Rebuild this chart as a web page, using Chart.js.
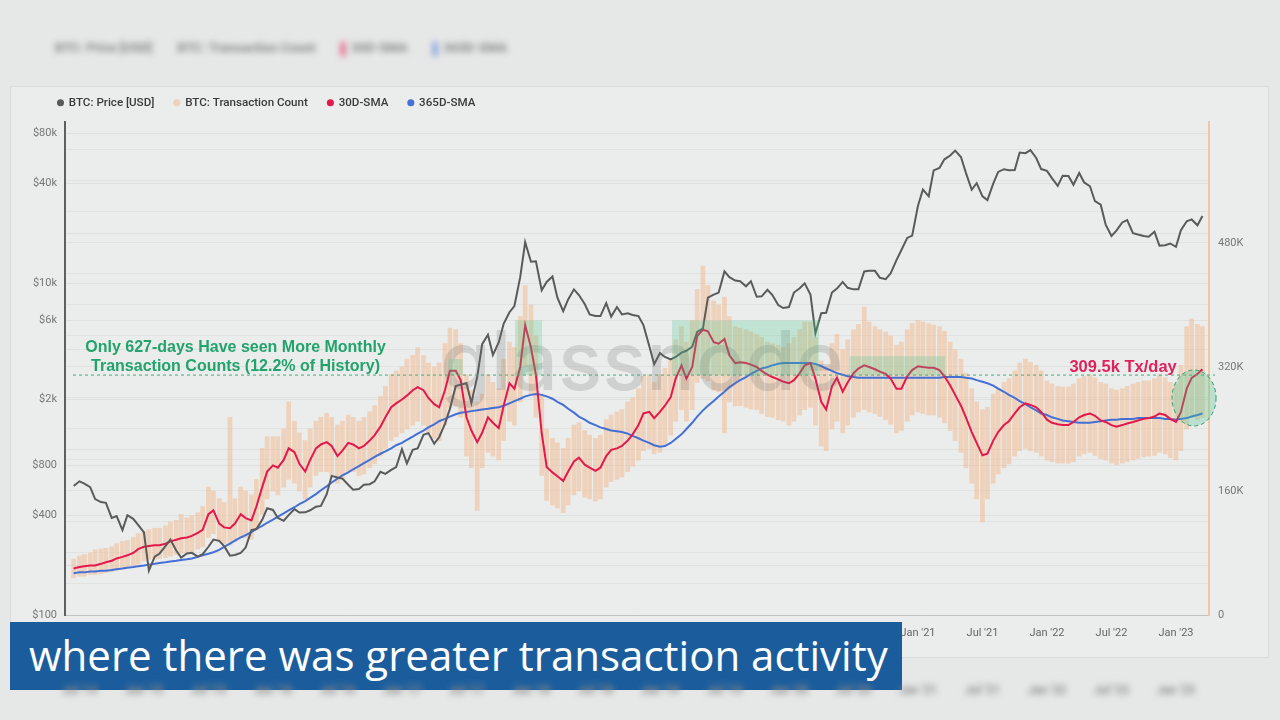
<!DOCTYPE html>
<html>
<head>
<meta charset="utf-8">
<script src="https://cdn.jsdelivr.net/npm/chart.js@4.4.1/dist/chart.umd.min.js"></script>
<style>
html, body { margin: 0; padding: 0; }
body { width: 1280px; height: 720px; background: #e6e7e7; position: relative; overflow: hidden; font-family: Roboto, sans-serif; }
#card { position: absolute; left: 10px; top: 86px; width: 1257px; height: 570px; background: #ebecec; border: 1px solid #dadbdb; }
#wrap { position: absolute; left: 10px; top: 86px; width: 1258px; height: 560px; }
#ghostTop { position: absolute; left: 55px; top: 40px; font: bold 13px Roboto; color: #858585; filter: blur(3px); white-space: nowrap; }
#ghostTop span { margin-right: 22px; }
#ghostTop i { display: inline-block; width: 4px; height: 14px; margin-right: 6px; vertical-align: middle; }
.ghostTick { position: absolute; top: 683px; width: 50px; text-align: center; font: bold 12px Roboto; color: #8c8c8c; filter: blur(3px); }
#caption { position: absolute; left: 10px; top: 622px; width: 892px; height: 68px; background: #1b5d9c; color: #fff; font: 42px "Open Sans", sans-serif; line-height: 66px; padding-left: 19px; box-sizing: border-box; white-space: nowrap; }
</style>
</head>
<body>
<div id="ghostTop">
  <span>BTC: Price [USD]</span>
  <span>BTC: Transaction Count</span>
  <span><i style="background:#e84a78"></i>30D-SMA</span>
  <span><i style="background:#6c8fe0"></i>365D-SMA</span>
</div>
<div id="card"></div>
<div id="wrap"><canvas id="chart" width="1258" height="560"></canvas></div>
<div id="caption">where there was greater transaction activity</div>
<script>
// half-month sample dates, 15 Jun 2014 -> 15 Mar 2023
var dates = [];
for (var yr = 2014; yr <= 2023; yr++) {
    for (var m = 1; m <= 12; m++) {
        [1, 15].forEach(function (d) {
            if (yr === 2014 && (m < 6 || (m === 6 && d === 1))) return;
            if (yr === 2023 && m > 3) return;
            dates.push(yr + '-' + (m < 10 ? '0' : '') + m + '-' + (d < 10 ? '0' : '') + d);
        });
    }
}

// BTC price [USD]
var price = [
    600, 640, 620, 590, 500, 480, 475, 385, 395, 325, 400, 380, 350,
    315, 185, 225, 235, 260, 285, 245, 222, 235, 237, 225, 233, 258, 285, 280, 260, 228, 230, 237, 255, 325, 330, 375, 440,
    430, 385, 370, 400, 435, 415, 416, 428, 450, 455, 535, 690, 675, 665, 610, 570, 575, 610, 615, 640, 730, 710, 750, 780,
    1000, 820, 990, 1010, 1220, 1250, 1080, 1180, 1420, 1750, 2400, 2450, 2500, 1900, 2730, 4300, 4900, 3700, 4400, 5700, 6700, 7300, 10900, 17700,
    13500, 13600, 9100, 10200, 11000, 8200, 6800, 8000, 9200, 8500, 7500, 6500, 6350, 6350, 7600, 6300, 7200, 6500, 6600, 6450, 6350, 5600, 4200, 3250,
    3800, 3600, 3480, 3600, 3820, 3920, 4150, 5100, 5350, 8200, 8550, 8800, 11800, 10900, 10400, 10300, 9600, 10300, 8300, 8350, 9150, 8500, 7400, 7100,
    7200, 8800, 9350, 10000, 8550, 5000, 6600, 6650, 8800, 9300, 10200, 9400, 9200, 9200, 11800, 11900, 11900, 10800, 10600, 11500, 13800, 15900, 18800, 19400,
    29400, 36800, 33500, 48000, 49600, 56000, 59000, 63200, 57800, 46400, 36700, 40200, 33500, 31800, 39900, 47000, 48800, 48100, 48200, 61500, 61000, 63600, 57000, 48900,
    47700, 43100, 38700, 44500, 44400, 39300, 46300, 40600, 38500, 31300, 29800, 22600, 19300, 20800, 23300, 24100, 20100, 19700, 19300, 19100, 20500, 16900, 17000, 17400,
    16600, 20900, 23700, 24300, 22400, 25500
];

// transaction count, thousands per day: daily low / high within each half month
var txLow = [
    48, 50, 50, 52, 52, 53, 55, 56, 58, 60, 62, 64, 66,
    70, 72, 72, 73, 74, 76, 78, 80, 80, 82, 85, 88, 100, 105, 95, 92, 90, 95, 100, 100, 98, 110, 130, 150,
    160, 155, 165, 175, 170, 160, 150, 165, 180, 185, 185, 180, 170, 175, 185, 185, 180, 182, 190, 195, 205, 215, 225, 230,
    235, 240, 245, 250, 245, 235, 228, 225, 245, 268, 270, 255, 205, 190, 135, 190, 210, 205, 200, 225, 250, 245, 275, 320,
    285, 255, 180, 148, 142, 138, 132, 142, 155, 160, 152, 150, 147, 150, 165, 172, 175, 178, 185, 192, 200, 212, 215, 208,
    210, 220, 232, 250, 265, 250, 265, 300, 305, 302, 290, 288, 235, 275, 270, 270, 268, 266, 265, 260, 256, 255, 252, 250,
    245, 250, 258, 265, 268, 245, 218, 212, 240, 250, 235, 245, 255, 262, 265, 262, 260, 256, 252, 246, 235, 238, 250, 258,
    262, 260, 258, 258, 255, 248, 238, 225, 210, 190, 170, 150, 120, 150, 170, 182, 190, 195, 205, 212, 215, 212, 210, 205,
    200, 198, 196, 196, 196, 198, 205, 208, 210, 206, 202, 200, 196, 194, 196, 198, 200, 202, 204, 205, 206, 210, 208, 203,
    200, 212, 240, 255, 252, 255
];
var txHigh = [
    72, 76, 78, 80, 84, 85, 86, 88, 92, 95, 96, 100, 105,
    108, 110, 112, 112, 115, 120, 122, 130, 125, 128, 132, 140, 165, 160, 150, 145, 255, 150, 165, 160, 155, 175, 215, 230,
    230, 230, 240, 275, 250, 235, 225, 240, 250, 255, 260, 255, 245, 250, 258, 255, 250, 255, 262, 270, 282, 295, 310, 315,
    320, 330, 335, 345, 335, 325, 320, 325, 350, 370, 368, 350, 310, 290, 275, 285, 310, 300, 292, 330, 352, 345, 385, 425,
    400, 360, 285, 240, 228, 222, 215, 228, 245, 248, 238, 232, 228, 232, 252, 258, 262, 265, 275, 280, 292, 308, 310, 300,
    310, 318, 330, 355, 372, 352, 380, 420, 450, 425, 405, 400, 410, 385, 372, 370, 368, 365, 362, 358, 352, 350, 348, 345,
    350, 358, 368, 378, 378, 358, 328, 320, 350, 362, 342, 355, 368, 375, 397, 378, 372, 368, 365, 360, 348, 352, 368, 376,
    380, 378, 376, 374, 372, 366, 352, 342, 330, 312, 292, 275, 265, 268, 285, 292, 300, 305, 315, 325, 330, 326, 322, 315,
    302, 298, 295, 294, 294, 298, 305, 308, 310, 306, 300, 298, 292, 290, 292, 295, 298, 300, 302, 302, 305, 310, 306, 300,
    298, 322, 372, 382, 375, 372
];

// 30 day moving average of transaction count (thousands)
var sma30 = [
    60, 62, 63, 64, 64, 66, 68, 70, 73, 75, 77, 80, 85,
    88, 89, 90, 90, 92, 95, 97, 99, 100, 102, 106, 110, 130, 135, 118, 113, 112, 118, 130, 125, 122, 140, 165, 185,
    193, 190, 200, 215, 210, 195, 185, 200, 215, 220, 223, 218, 205, 212, 222, 220, 215, 218, 225, 232, 243, 255, 268, 273,
    278, 283, 290, 294, 290, 280, 272, 268, 290, 315, 315, 303, 255, 238, 223, 235, 255, 248, 241, 270, 299, 292, 320, 374,
    345, 310, 235, 191, 184, 179, 173, 185, 198, 203, 194, 190, 186, 190, 205, 213, 215, 218, 225, 233, 245, 260, 262, 254,
    262, 270, 281, 305, 322, 305, 320, 360, 368, 366, 352, 350, 356, 335, 325, 326, 325, 323, 320, 315, 310, 307, 304, 301,
    299, 303, 312, 322, 325, 305, 275, 265, 295, 306, 288, 300, 312, 318, 322, 320, 317, 314, 311, 305, 292, 292, 308, 316,
    321, 320, 319, 319, 316, 308, 296, 284, 270, 255, 236, 222, 206, 208, 225, 236, 245, 250, 260, 268, 273, 271, 268, 262,
    252, 248, 246, 245, 245, 249, 255, 258, 260, 257, 251, 249, 245, 243, 245, 247, 249, 251, 253, 254, 256, 260, 258, 253,
    249, 262, 292, 306, 311, 317
];

// 365 day moving average of transaction count (thousands)
var sma365 = [
    54, 55, 55, 56, 56, 57, 57, 58, 59, 60, 61, 62, 63,
    64, 65, 66, 67, 68, 69, 70, 71, 72, 73, 75, 77, 79, 81, 84, 88, 92, 96, 100, 103, 107, 111, 115, 119,
    123, 127, 131, 135, 139, 143, 147, 151, 156, 161, 166, 171, 176, 180, 184, 188, 192, 196, 200, 204, 208, 211, 215, 219,
    222, 226, 230, 234, 238, 242, 246, 250, 253, 256, 259, 261, 262, 263, 264, 265, 266, 267, 268, 270, 273, 276, 279, 282,
    284, 285, 284, 282, 279, 275, 271, 266, 261, 256, 252, 248, 245, 242, 240, 238, 237, 236, 234, 231, 228, 225, 222, 219,
    217, 218, 222, 227, 233, 240, 248, 256, 264, 270, 276, 282, 288, 294, 299, 303, 307, 311, 315, 318, 320, 322, 324, 325,
    325, 325, 325, 325, 325, 324, 321, 318, 315, 312, 310, 308, 307, 306, 306, 306, 306, 306, 306, 306, 306, 306, 306, 306,
    306, 306, 306, 306, 306, 307, 307, 307, 307, 306, 305, 303, 301, 299, 296, 292, 288, 284, 280, 276, 272, 268, 264, 260,
    258, 255, 253, 251, 250, 249, 248, 248, 248, 249, 250, 251, 252, 252, 253, 253, 253, 254, 254, 254, 254, 254, 253, 253,
    252, 253, 254, 256, 258, 260
];

var xTickYears = [2015, 2015.5, 2016, 2016.5, 2017, 2017.5, 2018, 2018.5, 2019, 2019.5, 2020, 2020.5, 2021, 2021.5, 2022, 2022.5, 2023];
var priceGrid = [100, 200, 400, 800, 1000, 2000, 4000, 6000, 10000, 20000, 40000, 80000];
var priceLabels = [100, 400, 800, 2000, 6000, 10000, 40000, 80000];
var txGrid = [0, 40, 80, 120, 160, 200, 240, 280, 320, 360, 400, 440, 480, 520, 560, 600];
var txLabels = [0, 160, 320, 480];

// annotation: 30D-SMA above 309.5k tx/day
var threshold = 309.5;
var hotBoxes = [[2017.36, 2017.47, 330], [2017.876, 2018.086, 380], [2019.093, 2020.233, 380], [2020.47, 2021.21, 334]];

function toYear(s) {
    var p = s.split('-');
    return +p[0] + (p[1] - 1) / 12 + (p[2] - 1) / 365;
}
var yrs = dates.map(toYear);
function pts(arr) {
    return arr.map(function (v, i) { return { x: yrs[i], y: v }; });
}
function tickName(v) {
    var y = Math.floor(v + 0.001);
    return (v - y > 0.25 ? 'Jul' : 'Jan') + " '" + String(y % 100).padStart(2, '0');
}
function priceName(v) {
    return v >= 1000 ? '$' + (v / 1000) + 'k' : '$' + v;
}

var legendFix = {
    id: 'legendFix',
    beforeInit: function (chart) {
        var fit = chart.legend.fit;
        chart.legend.fit = function () {
            fit.call(this);
            this.height = 36;
        };
    },
    beforeDraw: function (chart) {
        chart.legend.left = 28;
        chart.legend.top = -9;
    }
};

var notes = {
    id: 'notes',
    afterDatasetsDraw: function (chart) {
        var ctx = chart.ctx, a = chart.chartArea, x = chart.scales.x, y1 = chart.scales.y1;
        ctx.save();

        ctx.font = '500 82px Inter';
        ctx.fillStyle = 'rgba(110, 110, 110, 0.22)';
        ctx.textAlign = 'center';
        ctx.textBaseline = 'alphabetic';
        ctx.fillText('glassnode', (a.left + a.right) / 2 + 5, (a.top + a.bottom) / 2 + 21);

        var ty = y1.getPixelForValue(threshold);
        ctx.fillStyle = 'rgba(72, 199, 142, 0.26)';
        hotBoxes.forEach(function (b) {
            var l = x.getPixelForValue(b[0]), r = x.getPixelForValue(b[1]);
            var t = y1.getPixelForValue(b[2]);
            ctx.fillRect(l, t, r - l, ty - t);
        });

        ctx.setLineDash([3, 3]);
        ctx.strokeStyle = '#3dae78';
        ctx.lineWidth = 1;
        ctx.beginPath();
        ctx.moveTo(a.left + 8, ty);
        ctx.lineTo(a.right + 6, ty);
        ctx.stroke();

        var cx = x.getPixelForValue(2023.14), cy = y1.getPixelForValue(280);
        ctx.beginPath();
        ctx.ellipse(cx, cy, 22, 28, 0, 0, Math.PI * 2);
        ctx.fillStyle = 'rgba(72, 199, 142, 0.3)';
        ctx.fill();
        ctx.setLineDash([4, 3]);
        ctx.strokeStyle = '#2f9c68';
        ctx.stroke();
        ctx.setLineDash([]);

        ctx.font = 'bold 16px "Liberation Sans"';
        ctx.textBaseline = 'middle';
        ctx.fillStyle = '#22a36b';
        var tx = x.getPixelForValue(2015.71);
        ctx.fillText('Only 627-days Have seen More Monthly', tx, ty - 27);
        ctx.fillText('Transaction Counts (12.2% of History)', tx, ty - 8);
        ctx.font = 'bold 16.5px "Liberation Sans"';
        ctx.fillStyle = '#e0225a';
        ctx.fillText('309.5k Tx/day', x.getPixelForValue(2022.59), ty - 8);
        ctx.restore();
    }
};

var chart = new Chart(document.getElementById('chart').getContext('2d'), {
    type: 'bar',
    data: {
        datasets: [{
            type: 'line',
            label: 'BTC: Price [USD]',
            data: pts(price),
            yAxisID: 'y',
            borderColor: '#5a5a5a',
            backgroundColor: '#5a5a5a',
            borderWidth: 2,
            pointRadius: 0,
            order: 0
        }, {
            label: 'BTC: Transaction Count',
            data: txLow.map(function (lo, i) { return { x: yrs[i], y: [lo, txHigh[i]] }; }),
            yAxisID: 'y1',
            backgroundColor: 'rgba(241, 184, 138, 0.5)',
            borderWidth: 0,
            barThickness: 4,
            order: 3
        }, {
            type: 'line',
            label: '30D-SMA',
            data: pts(sma30),
            yAxisID: 'y1',
            borderColor: '#e3184b',
            backgroundColor: '#e3184b',
            borderWidth: 2,
            pointRadius: 0,
            order: 1
        }, {
            type: 'line',
            label: '365D-SMA',
            data: pts(sma365),
            yAxisID: 'y1',
            borderColor: '#4470d6',
            backgroundColor: '#4470d6',
            borderWidth: 2,
            pointRadius: 0,
            order: 2
        }]
    },
    options: {
        responsive: false,
        animation: false,
        devicePixelRatio: 1,
        font: { family: 'Roboto' },
        plugins: {
            tooltip: { enabled: false },
            legend: {
                display: true,
                position: 'top',
                align: 'start',
                labels: {
                    usePointStyle: true,
                    pointStyle: 'circle',
                    boxWidth: 5,
                    boxHeight: 5,
                    padding: 20,
                    color: '#3a3a3a',
                    font: { family: 'Roboto', size: 11.6, weight: '500' },
                    sort: function (a, b) { return a.datasetIndex - b.datasetIndex; },
                    generateLabels: function (c) {
                        var items = Chart.defaults.plugins.legend.labels.generateLabels(c);
                        items.forEach(function (it) { it.lineWidth = 0; });
                        return items;
                    }
                }
            }
        },
        scales: {
            x: {
                type: 'linear',
                min: 2014.388,
                max: 2023.256,
                offset: false,
                grid: { display: false },
                border: { display: true, color: 'rgba(0,0,0,0.1)' },
                afterBuildTicks: function (s) { s.ticks = xTickYears.map(function (v) { return { value: v }; }); },
                afterFit: function (s) { s.height = 31; },
                ticks: {
                    padding: 4, color: '#666', maxRotation: 0, autoSkip: false,
                    font: { family: 'Roboto', size: 11 },
                    callback: function (v) { return tickName(v); }
                }
            },
            y: {
                type: 'logarithmic',
                position: 'left',
                min: 100,
                max: 94000,
                afterBuildTicks: function (s) { s.ticks = priceGrid.map(function (v) { return { value: v }; }); },
                afterFit: function (s) { s.width = 55; },
                grid: { color: 'rgba(0,0,0,0.05)', drawTicks: false },
                border: { color: '#5f5f5f', width: 2 },
                ticks: {
                    padding: 8, color: '#777', autoSkip: false,
                    font: { family: 'Roboto', size: 11 },
                    callback: function (v) { return priceLabels.indexOf(v) >= 0 ? priceName(v) : ''; }
                }
            },
            y1: {
                type: 'linear',
                position: 'right',
                min: 0,
                max: 636,
                afterBuildTicks: function (s) { s.ticks = txGrid.map(function (v) { return { value: v }; }); },
                afterFit: function (s) { s.width = 59; },
                grid: { color: 'rgba(0,0,0,0.04)', drawTicks: false },
                border: { color: '#f2c6a2', width: 2 },
                ticks: {
                    padding: 9, color: '#777', autoSkip: false,
                    font: { family: 'Roboto', size: 11 },
                    callback: function (v) { return txLabels.indexOf(v) >= 0 ? (v === 0 ? '0' : v + 'K') : ''; }
                }
            }
        }
    },
    plugins: [legendFix, notes]
});

// blurred copy of the date row showing through below the caption
[2014.5].concat(xTickYears).forEach(function (v) {
    var d = document.createElement('div');
    d.className = 'ghostTick';
    d.textContent = tickName(v);
    d.style.left = (10 + chart.scales.x.getPixelForValue(v) - 25) + 'px';
    document.body.appendChild(d);
});
</script>
</body>
</html>
